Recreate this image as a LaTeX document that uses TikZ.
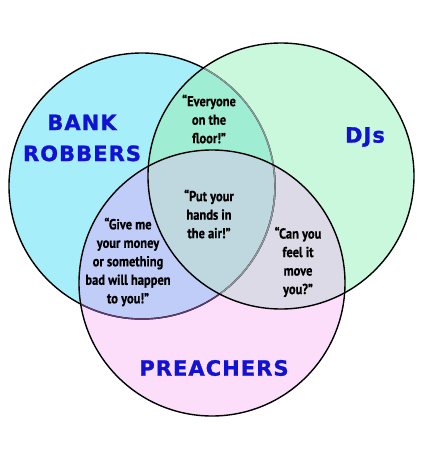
\documentclass[tikz,border=0pt]{standalone}
\usepackage{fontspec}
\newfontfamily\labelfont[LetterSpace=5,FakeBold=1.2]{DejaVu Sans}
\newfontfamily\quotefont[FakeStretch=0.86,FakeBold=0.6]{PT Sans}

\definecolor{robbers}{HTML}{A6EEF9}
\definecolor{djs}{HTML}{C9F8DD}
\definecolor{preachers}{HTML}{FCDEFA}
\definecolor{robdj}{HTML}{9FEDD3}
\definecolor{robpr}{HTML}{C0CDF8}
\definecolor{djpr}{HTML}{DBDAE6}
\definecolor{allthree}{HTML}{BFD7DF}
\definecolor{labelblue}{HTML}{1212D4}
\definecolor{greyline}{HTML}{8A9898}
\definecolor{purpleline}{HTML}{5C3C6C}

\tikzset{
	ring/.style={line width=1.4pt},
	setname/.style={text=labelblue, font=\labelfont\bfseries\fontsize{21}{31}\selectfont, align=center},
	saying/.style={text=black, font=\quotefont\bfseries\fontsize{14.5}{18.5}\selectfont, align=center}
}

\begin{document}
\begin{tikzpicture}[x=1pt,y=-1pt]

		\useasboundingbox (0,0) rectangle (425,451);
		\fill[white] (0,0) rectangle (425,451);

		\coordinate (br) at (142,186);
		\coordinate (dj) at (281,176);
		\coordinate (pr) at (212,283);
		\def\rad{133pt}

		% regions
		\fill[robbers] (br) circle (\rad);
		\fill[djs] (dj) circle (\rad);
		\fill[preachers] (pr) circle (\rad);
		\begin{scope}
			\clip (br) circle (\rad);
			\fill[robdj] (dj) circle (\rad);
			\fill[robpr] (pr) circle (\rad);
		\end{scope}
		\begin{scope}
			\clip (dj) circle (\rad);
			\fill[djpr] (pr) circle (\rad);
		\end{scope}
		\begin{scope}
			\clip (br) circle (\rad);
			\clip (dj) circle (\rad);
			\fill[allthree] (pr) circle (\rad);
		\end{scope}

		% outlines
		\draw[ring] (br) circle (\rad);
		\begin{scope}
			\clip (pr) circle (\rad);
			\draw[ring, purpleline] (br) circle (\rad);
		\end{scope}
		\begin{scope}
			\clip (dj) circle (\rad);
			\draw[ring, greyline] (br) circle (\rad);
		\end{scope}
		\draw[ring] (dj) circle (\rad);
		\draw[ring] (pr) circle (\rad);

		\node[setname] (robname) at (82,138) {BANK\\ROBBERS};
		\node[setname] (djname) at (365,137) {DJs};
		\node[setname] (prname) at (214,368) {PREACHERS};

		\node[saying] (floor) at (209,119) {“Everyone\\on the\\floor!”};
		\node[saying] (air) at (209,214) {“Put your\\hands in\\the air!”};
		\node[saying] (money) at (128,262) {“Give me\\your money\\or something\\bad will happen\\to you!”};
		\node[saying] (move) at (298,262) {“Can you\\feel it\\move\\you?”};

	\end{tikzpicture}
\end{document}
